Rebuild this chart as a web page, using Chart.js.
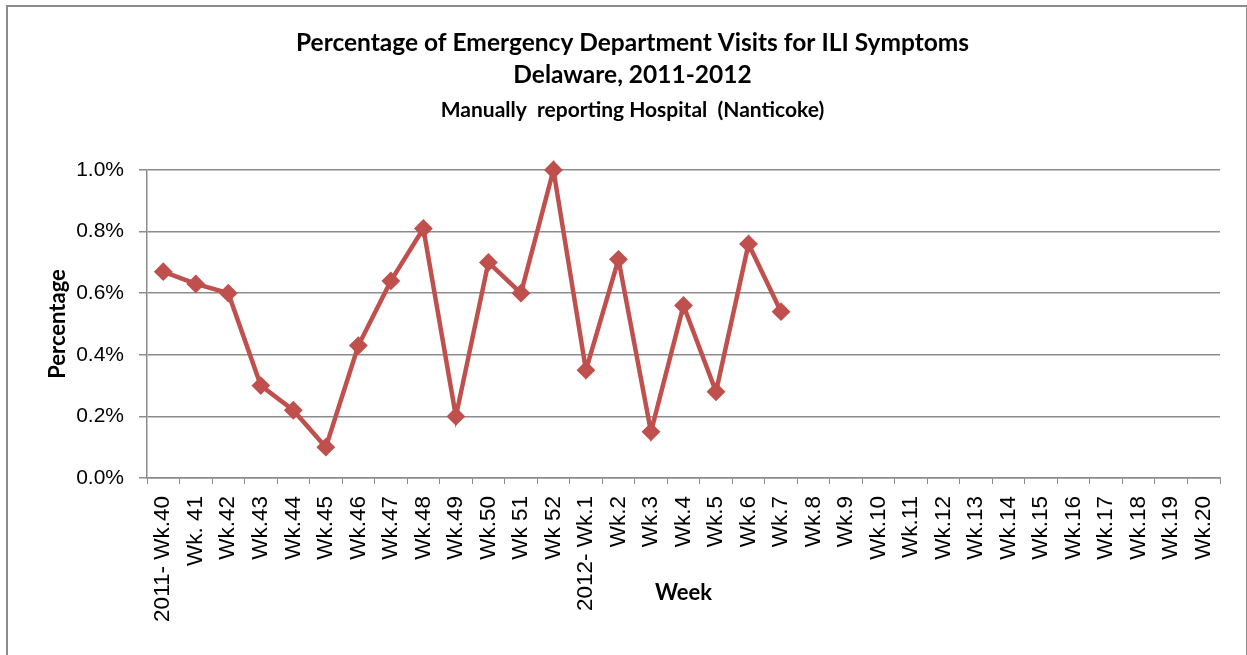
<!DOCTYPE html>
<html>
<head>
<meta charset="utf-8">
<script src="https://cdn.jsdelivr.net/npm/chart.js@4.4.1/dist/chart.umd.min.js"></script>
<style>
body { margin: 0; background: #fff; }
#wrap { position: relative; width: 1247px; height: 655px; overflow: hidden; }
#frame { position: absolute; left: 6px; top: 5px; width: 1238px; height: 700px; border: 2px solid #8c8c8c; border-bottom: none; }
canvas { position: absolute; left: 0; top: 0; }
</style>
</head>
<body>
<div id="wrap">
  <div id="frame"></div>
  <canvas id="iliChart" width="1247" height="655"></canvas>
</div>
<script>
// week labels, 2011 wk 40 through 2012 wk 20
const weeks = [
    '2011- Wk.40', 'Wk. 41', 'Wk.42', 'Wk.43', 'Wk.44', 'Wk.45', 'Wk.46', 'Wk.47',
    'Wk.48', 'Wk.49', 'Wk.50', 'Wk 51', 'Wk 52', '2012- Wk.1', 'Wk.2', 'Wk.3',
    'Wk.4', 'Wk.5', 'Wk.6', 'Wk.7', 'Wk.8', 'Wk.9', 'Wk.10', 'Wk.11', 'Wk.12',
    'Wk.13', 'Wk.14', 'Wk.15', 'Wk.16', 'Wk.17', 'Wk.18', 'Wk.19', 'Wk.20'
];
// percent of ED visits (only reported through wk 7)
const pctVisits = [
    0.67, 0.63, 0.60, 0.30, 0.22, 0.10, 0.43, 0.64, 0.81, 0.20, 0.70, 0.60, 1.00,
    0.35, 0.71, 0.15, 0.56, 0.28, 0.76, 0.54,
    null, null, null, null, null, null, null, null, null, null, null, null, null
];
const yMin = 0, yMax = 1.0, yStep = 0.2;

const titleLines = ['Percentage of Emergency Department Visits for ILI Symptoms', 'Delaware, 2011-2012'];
const subTitle = 'Manually  reporting Hospital  (Nanticoke)';

const gridGray = '#8c8c8c';
const lineRed = '#c0504d';

const ctx = document.getElementById('iliChart').getContext('2d');
new Chart(ctx, {
    type: 'line',
    data: {
        labels: weeks,
        datasets: [{
            data: pctVisits,
            borderColor: lineRed,
            backgroundColor: lineRed,
            borderWidth: 4.5,
            pointStyle: 'rectRot',
            pointRadius: 8,
            pointBorderWidth: 2,
            pointBorderColor: lineRed,
            pointBackgroundColor: lineRed,
            tension: 0,
            spanGaps: false,
            clip: false
        }]
    },
    options: {
        responsive: false,
        animation: false,
        devicePixelRatio: 1,
        layout: { padding: { left: 45, right: 27, top: 0, bottom: 0 } },
        plugins: {
            legend: { display: false },
            tooltip: { enabled: false },
            title: {
                display: true,
                text: titleLines,
                color: '#000',
                font: { family: 'Lato', size: 24.5, weight: 'bold', lineHeight: 32 / 24.5 },
                padding: { top: 27, bottom: 7 }
            },
            subtitle: {
                display: true,
                text: subTitle,
                color: '#000',
                font: { family: 'Lato', size: 21, weight: 'bold', lineHeight: 24 / 21 },
                padding: { top: 0, bottom: 48 }
            }
        },
        scales: {
            x: {
                offset: true,
                afterFit: s => { s.height = 177; },
                grid: { display: true, drawOnChartArea: false, drawTicks: true, tickLength: 6, offset: true, color: gridGray, lineWidth: 1 },
                border: { display: true, color: gridGray, width: 1.5 },
                ticks: {
                    autoSkip: false, minRotation: 90, maxRotation: 90, padding: 12,
                    color: '#000', font: { family: 'Liberation Sans', size: 22.5 }
                },
                title: {
                    display: true, text: 'Week', color: '#000',
                    font: { family: 'Lato', size: 22, weight: 'bold' },
                    padding: { top: 0, bottom: 49 }
                }
            },
            y: {
                min: yMin, max: yMax,
                afterFit: s => { s.width = 102; },
                grid: { color: gridGray, lineWidth: 1.5, tickLength: 8 },
                border: { display: true, color: gridGray, width: 1.5 },
                ticks: {
                    stepSize: yStep, padding: 15, color: '#000',
                    font: { family: 'Liberation Sans', size: 21 },
                    callback: v => v.toFixed(1) + '%'
                },
                title: {
                    display: true, text: 'Percentage', color: '#000',
                    font: { family: 'Lato', size: 22, weight: 'bold' },
                    padding: { top: 0, bottom: 0 }
                }
            }
        }
    }
});
</script>
</body>
</html>
